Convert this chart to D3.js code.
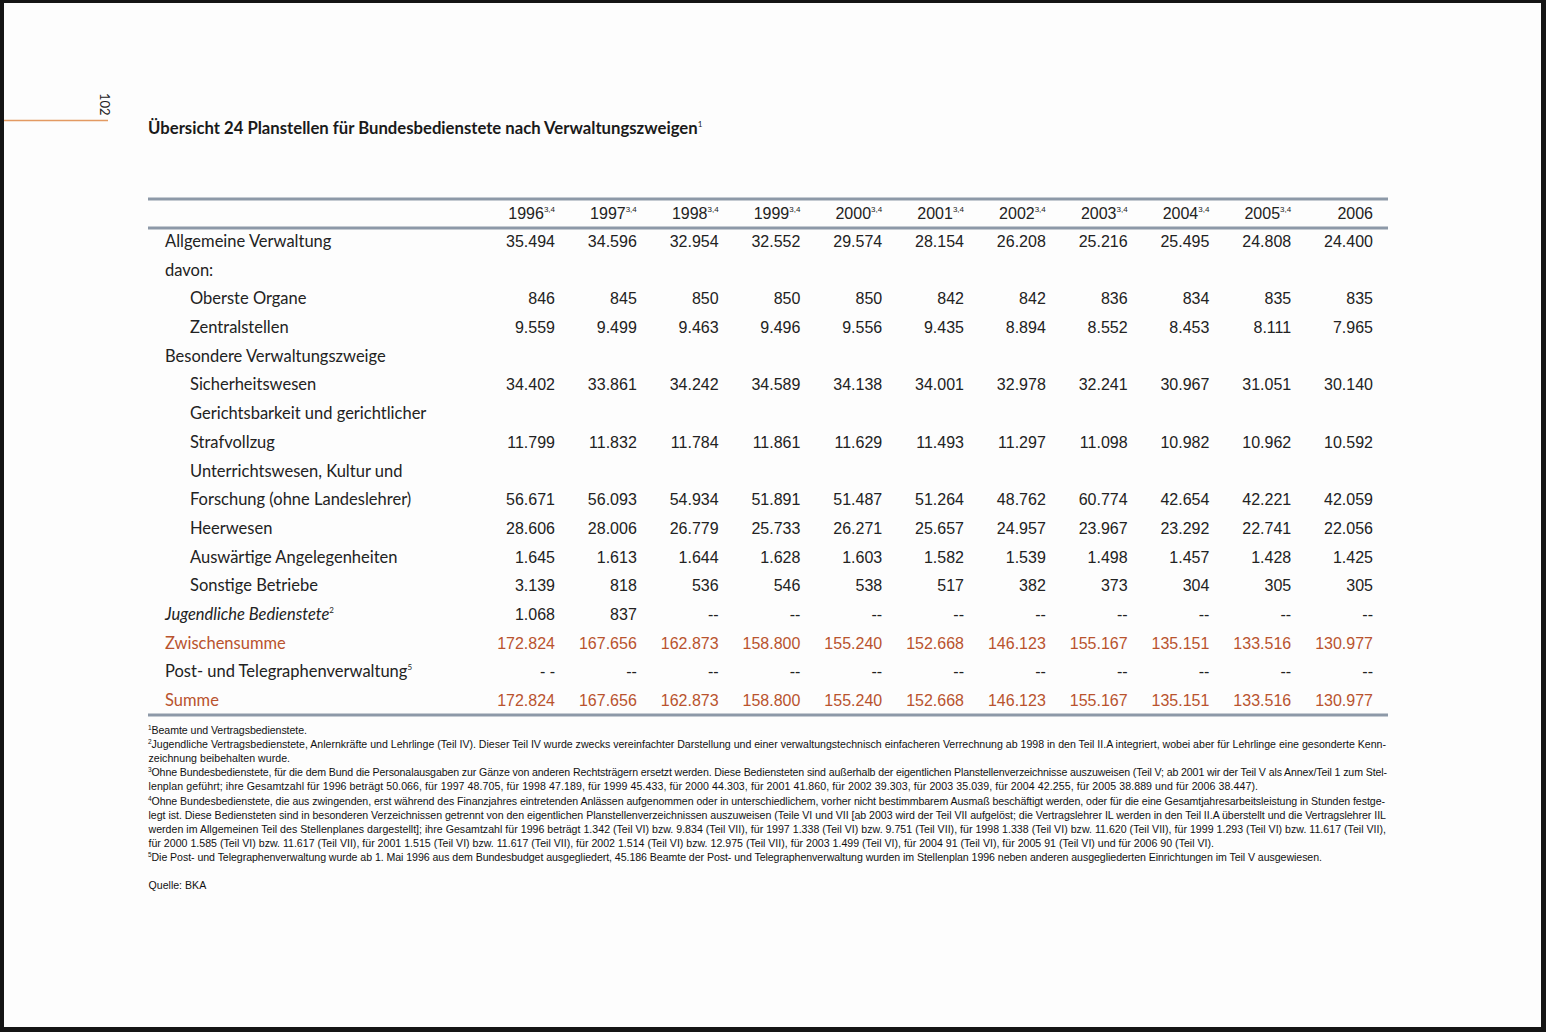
<!DOCTYPE html>
<html><head><meta charset="utf-8">
<script src="https://cdn.jsdelivr.net/npm/d3@7"></script>
<style>
html,body{margin:0;padding:0;background:#fff;}
svg{display:block;}
</style></head>
<body>
<script>
// ---------- data ----------
const years = ["1996","1997","1998","1999","2000","2001","2002","2003","2004","2005","2006"];
const yearNotes = ["3,4","3,4","3,4","3,4","3,4","3,4","3,4","3,4","3,4","3,4",""];

const rowLabels = [
  "Allgemeine Verwaltung","davon:","Oberste Organe","Zentralstellen",
  "Besondere Verwaltungszweige","Sicherheitswesen","Gerichtsbarkeit und gerichtlicher",
  "Strafvollzug","Unterrichtswesen, Kultur und","Forschung (ohne Landeslehrer)",
  "Heerwesen","Auswärtige Angelegenheiten","Sonstige Betriebe",
  "Jugendliche Bedienstete","Zwischensumme","Post- und Telegraphenverwaltung","Summe"
];
const rowNotes = ["","","","","","","","","","","","","","2","","5",""];
const rowIndent = [0,0,1,1,0,1,1,1,1,1,1,1,1,0,0,0,0];
const rowStyle  = ["n","n","n","n","n","n","n","n","n","n","n","n","n","italic","sum","n","sum"];

const allgemeineVerwaltung = [35494,34596,32954,32552,29574,28154,26208,25216,25495,24808,24400];
const obersteOrgane        = [846,845,850,850,850,842,842,836,834,835,835];
const zentralstellen       = [9559,9499,9463,9496,9556,9435,8894,8552,8453,8111,7965];
const sicherheitswesen     = [34402,33861,34242,34589,34138,34001,32978,32241,30967,31051,30140];
const strafvollzug         = [11799,11832,11784,11861,11629,11493,11297,11098,10982,10962,10592];
const forschung            = [56671,56093,54934,51891,51487,51264,48762,60774,42654,42221,42059];
const heerwesen            = [28606,28006,26779,25733,26271,25657,24957,23967,23292,22741,22056];
const auswaertiges         = [1645,1613,1644,1628,1603,1582,1539,1498,1457,1428,1425];
const sonstigeBetriebe     = [3139,818,536,546,538,517,382,373,304,305,305];
const jugendliche          = [1068,837,null,null,null,null,null,null,null,null,null];
const zwischensumme        = [172824,167656,162873,158800,155240,152668,146123,155167,135151,133516,130977];
const postTelegraph        = ["- -",null,null,null,null,null,null,null,null,null,null];
const summe                = [172824,167656,162873,158800,155240,152668,146123,155167,135151,133516,130977];

const rowValues = [allgemeineVerwaltung,null,obersteOrgane,zentralstellen,null,sicherheitswesen,null,
  strafvollzug,null,forschung,heerwesen,auswaertiges,sonstigeBetriebe,jugendliche,zwischensumme,postTelegraph,summe];

const footnoteNotes = ["1","2","","3","","4","","","","5"];
const footnoteTexts = [
  "Beamte und Vertragsbedienstete.",
  "Jugendliche Vertragsbedienstete, Anlernkräfte und Lehrlinge (Teil IV). Dieser Teil IV wurde zwecks vereinfachter Darstellung und  einer verwaltungstechnisch einfacheren Verrechnung ab 1998 in den Teil II.A integriert, wobei aber für Lehrlinge eine gesonderte Kenn-",
  "zeichnung beibehalten wurde.",
  "Ohne Bundesbedienstete, für die dem Bund die Personalausgaben zur Gänze von anderen Rechtsträgern ersetzt werden. Diese Bediensteten sind außerhalb der eigentlichen Planstellenverzeichnisse auszuweisen (Teil V; ab 2001 wir der Teil V als Annex/Teil 1 zum Stel-",
  "lenplan geführt; ihre Gesamtzahl für 1996 beträgt 50.066, für 1997 48.705, für 1998  47.189, für 1999 45.433, für 2000 44.303, für 2001 41.860, für 2002 39.303, für 2003 35.039, für 2004 42.255, für 2005 38.889 und für 2006 38.447).",
  "Ohne Bundesbedienstete, die aus zwingenden, erst während des Finanzjahres eintretenden Anlässen aufgenommen oder in unterschiedlichem, vorher nicht bestimmbarem Ausmaß beschäftigt werden, oder für die eine Gesamtjahresarbeitsleistung in Stunden festge-",
  "legt ist. Diese Bediensteten sind in besonderen Verzeichnissen getrennt von den eigentlichen Planstellenverzeichnissen auszuweisen (Teile VI und VII [ab 2003 wird der Teil VII aufgelöst; die Vertragslehrer IL werden in den Teil II.A überstellt und die Vertragslehrer IIL",
  "werden im Allgemeinen Teil des Stellenplanes dargestellt]; ihre Gesamtzahl für 1996 beträgt 1.342 (Teil VI) bzw. 9.834 (Teil VII),  für 1997 1.338 (Teil VI) bzw. 9.751 (Teil VII), für 1998 1.338 (Teil VI) bzw. 11.620 (Teil VII), für 1999 1.293 (Teil VI) bzw. 11.617 (Teil VII),",
  "für 2000 1.585 (Teil VI) bzw. 11.617 (Teil VII), für 2001 1.515 (Teil VI) bzw. 11.617 (Teil VII), für 2002 1.514 (Teil VI) bzw. 12.975 (Teil VII), für 2003 1.499 (Teil VI), für 2004 91 (Teil VI), für 2005 91 (Teil VI) und für 2006 90 (Teil VI).",
  "Die Post- und Telegraphenverwaltung wurde ab 1. Mai 1996 aus dem Bundesbudget ausgegliedert, 45.186 Beamte der Post- und Telegraphenverwaltung wurden im Stellenplan 1996 neben anderen ausgegliederten Einrichtungen im Teil V ausgewiesen."
];
const titleText = "Übersicht 24 Planstellen für Bundesbedienstete nach Verwaltungszweigen";
const sourceText = "Quelle: BKA";
const pageNumber = "102";

// ---------- drawing ----------
const W = 1546, H = 1032;
const textCol = "#222", sumCol = "#b9532e", ruleCol = "#8d99a8";
const labelFont = "Lato, 'Open Sans', sans-serif";
const numFont = "'Liberation Sans', Arial, sans-serif";
const noteFont = "'Liberation Sans', Arial, sans-serif";
// right ends of footnote lines in the reference layout
const footnoteEnds = [307, 1386, 290, 1387, 1258, 1385, 1386, 1386, 1214, 1322];

const svg = d3.select("body").append("svg").attr("width", W).attr("height", H);
svg.append("rect").attr("width", W).attr("height", H).attr("fill", "#151515");
svg.append("rect").attr("x", 4).attr("y", 3).attr("width", 1537).attr("height", 1024).attr("fill", "#fdfdfd");

// page marker
svg.append("line").attr("x1", 4).attr("x2", 108).attr("y1", 120.5).attr("y2", 120.5)
  .attr("stroke", "#e39a62").attr("stroke-width", 1.6);
svg.append("text").attr("transform", "translate(100,93) rotate(90)")
  .attr("font-family", labelFont).attr("font-size", 13).attr("fill", textCol).text(pageNumber);

// title
const title = svg.append("text").attr("x", 148).attr("y", 134)
  .attr("font-family", labelFont).attr("font-weight", "bold").attr("font-size", 16.7).attr("fill", "#1a1a1a");
title.append("tspan").text(titleText);
title.append("tspan").attr("font-size", 8).attr("dy", -7).attr("font-weight", "normal").text("1");

// scales
const x = d3.scaleBand().domain(years).range([473.2, 1373]).padding(0);
const y = d3.scalePoint().domain(d3.range(rowLabels.length)).range([241, 700]);

const tableLeft = 148, tableRight = 1388;
[[199, 3], [228, 3], [715, 3]].forEach(([yy, w]) => {
  svg.append("line").attr("x1", tableLeft).attr("x2", tableRight).attr("y1", yy).attr("y2", yy)
    .attr("stroke", ruleCol).attr("stroke-width", w);
});

// header
const hdr = svg.append("g").selectAll("text").data(years).join("text")
  .attr("x", d => x(d) + x.bandwidth())
  .attr("y", 219)
  .attr("text-anchor", "end")
  .attr("font-family", numFont).attr("font-size", 16).attr("fill", textCol);
hdr.append("tspan").text(d => d);
hdr.append("tspan").attr("font-size", 8).attr("dy", -7).text((d, i) => yearNotes[i]);

// rows
const fmt = d3.formatLocale({decimal: ",", thousands: ".", grouping: [3], currency: ["", "€"]}).format(",d");
const rows = svg.append("g").selectAll("g").data(rowLabels).join("g")
  .attr("transform", (d, i) => `translate(0,${y(i) + 6})`);

const lbl = rows.append("text")
  .attr("x", (d, i) => rowIndent[i] ? 190 : 165)
  .attr("font-family", labelFont).attr("font-size", 16.5)
  .attr("font-style", (d, i) => rowStyle[i] === "italic" ? "italic" : "normal")
  .attr("fill", (d, i) => rowStyle[i] === "sum" ? sumCol : textCol);
lbl.append("tspan").text(d => d);
lbl.append("tspan").attr("font-size", 8).attr("dy", -7).attr("font-style", "normal").text((d, i) => rowNotes[i]);

rows.each(function(d, i) {
  const vals = rowValues[i];
  if (!vals) return;
  d3.select(this).selectAll("text.v").data(vals).join("text").attr("class", "v")
    .attr("x", (v, j) => x(years[j]) + x.bandwidth())
    .attr("text-anchor", "end")
    .attr("font-family", numFont).attr("font-size", 16)
    .attr("fill", rowStyle[i] === "sum" ? sumCol : textCol)
    .text(v => typeof v === "number" ? fmt(v) : (v == null ? "--" : v));
});

// footnotes
const fnG = svg.append("g").attr("font-family", noteFont).attr("font-size", 10.6).attr("fill", "#111");
footnoteTexts.forEach((t, i) => {
  const yy = 734 + i * 14.1;
  let x0 = 148.5;
  if (footnoteNotes[i]) {
    fnG.append("text").attr("x", 148).attr("y", yy - 4).attr("font-size", 6.5).text(footnoteNotes[i]);
    x0 = 151.5;
  }
  fnG.append("text").attr("x", x0).attr("y", yy)
    .attr("textLength", footnoteEnds[i] - x0).attr("lengthAdjust", "spacing")
    .text(t);
});

svg.append("text").attr("x", 148.5).attr("y", 889)
  .attr("font-family", noteFont).attr("font-size", 10.6).attr("fill", "#111").text(sourceText);
</script>
</body></html>
